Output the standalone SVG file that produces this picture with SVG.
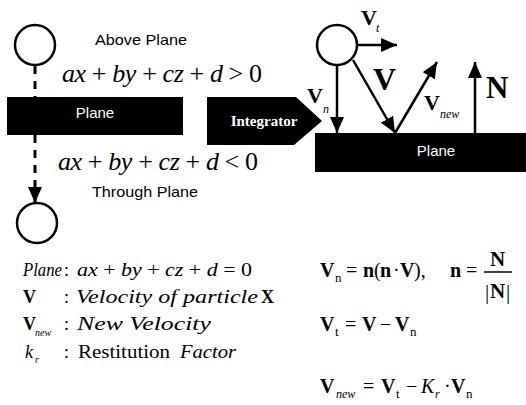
<svg xmlns="http://www.w3.org/2000/svg" width="526" height="405" viewBox="0 0 526 405">
<style>
.bg{fill:#fff}
.blk{fill:#000}
.ring{fill:#fff;stroke:#000;stroke-width:2.5}
.sans{font-family:"Liberation Sans","DejaVu Sans",Arial,sans-serif;fill:#000}
.wsans{font-family:"Liberation Sans","DejaVu Sans",Arial,sans-serif;fill:#fff}
.ser{font-family:"Liberation Serif","DejaVu Serif","Times New Roman",Times,serif;fill:#000}
.wser{font-family:"Liberation Serif","DejaVu Serif","Times New Roman",Times,serif;fill:#fff}
.b{font-weight:bold}
.i{font-style:italic}
.u{font-style:normal}
.vec{stroke:#000;stroke-width:2.5;fill:none}
.dash{stroke:#000;stroke-width:3;fill:none;stroke-dasharray:8 7}
</style>
<defs>
<marker id="ah" viewBox="0 0 16 14" refX="16" refY="7" markerWidth="16" markerHeight="14" markerUnits="userSpaceOnUse" orient="auto"><path d="M0,0 L16,7 L0,14 z" fill="#000"/></marker>
</defs>
<rect class="bg" x="0" y="0" width="526" height="405"/>

<g id="connectors">
<line class="dash" x1="35" y1="66" x2="35" y2="97"/>
<line class="dash" x1="35" y1="135" x2="35" y2="203" marker-end="url(#ah)"/>
<line class="vec" x1="357" y1="45" x2="397" y2="45" marker-end="url(#ah)"/>
<line class="vec" x1="337" y1="65" x2="337" y2="133" marker-end="url(#ah)"/>
<line class="vec" x1="353" y1="60" x2="395" y2="133" marker-end="url(#ah)"/>
<line class="vec" x1="395" y1="133" x2="437" y2="62" marker-end="url(#ah)"/>
<line class="vec" x1="475" y1="133" x2="475" y2="62" marker-end="url(#ah)"/>
</g>

<g id="above-particle">
<circle class="ring" cx="35" cy="45" r="20"/>
<text class="sans" x="95" y="45" font-size="15" textLength="92" lengthAdjust="spacingAndGlyphs">Above Plane</text>
<text class="ser i" x="62" y="82" font-size="26" textLength="200">ax <tspan class="u">+</tspan> by <tspan class="u">+</tspan> cz <tspan class="u">+</tspan> d <tspan class="u">&gt;</tspan> <tspan class="u">0</tspan></text>
</g>

<g id="left-plane">
<rect class="blk" x="7" y="97" width="176" height="38"/>
<text class="wsans" x="95" y="118" font-size="15" text-anchor="middle">Plane</text>
</g>

<g id="through-particle">
<text class="ser i" x="58" y="170" font-size="26" textLength="200">ax <tspan class="u">+</tspan> by <tspan class="u">+</tspan> cz <tspan class="u">+</tspan> d <tspan class="u">&lt;</tspan> <tspan class="u">0</tspan></text>
<text class="sans" x="92" y="197" font-size="15" textLength="106" lengthAdjust="spacingAndGlyphs">Through Plane</text>
<circle class="ring" cx="37" cy="223" r="20"/>
</g>

<g id="integrator">
<path class="blk" d="M207,97 L296,97 L322,121 L294,145 L207,145 Z"/>
<text class="wser b" x="264" y="126" font-size="15" text-anchor="middle">Integrator</text>
</g>

<g id="right-plane">
<rect class="blk" x="315" y="133" width="211" height="39"/>
<text class="wsans" x="436" y="156" font-size="15" text-anchor="middle">Plane</text>
</g>

<g id="particle">
<circle class="ring" cx="337" cy="45" r="20"/>
</g>

<g id="vector-labels">
<text class="ser b" x="361" y="25" font-size="22">V</text>
<text class="ser i" x="376" y="32" font-size="12">t</text>
<text class="ser b" x="307" y="103" font-size="22">V</text>
<text class="ser i" x="323" y="113" font-size="12">n</text>
<text class="ser b" x="373" y="90" font-size="32">V</text>
<text class="ser b" x="424" y="110" font-size="22">V</text>
<text class="ser i" x="440" y="118" font-size="12">new</text>
<text class="ser b" x="486" y="98" font-size="31">N</text>
</g>

<g id="legend">
<text class="ser i" x="23" y="276" font-size="18" textLength="39" lengthAdjust="spacingAndGlyphs">Plane</text>
<text class="ser" x="64" y="276" font-size="18">:</text>
<text class="ser i" x="77" y="276" font-size="18" textLength="175" lengthAdjust="spacingAndGlyphs">ax <tspan class="u">+</tspan> by <tspan class="u">+</tspan> cz <tspan class="u">+</tspan> d <tspan class="u">=</tspan> <tspan class="u">0</tspan></text>
<text class="ser b" x="23" y="303" font-size="18">V</text>
<text class="ser" x="64" y="303" font-size="18">:</text>
<text class="ser i" x="76" y="303" font-size="18" textLength="182" lengthAdjust="spacingAndGlyphs">Velocity of particle</text>
<text class="ser b" x="261" y="303" font-size="18">X</text>
<text class="ser b" x="23" y="330" font-size="18">V</text>
<text class="ser i" x="35" y="336" font-size="10">new</text>
<text class="ser" x="64" y="330" font-size="18">:</text>
<text class="ser i" x="77" y="330" font-size="18" textLength="134" lengthAdjust="spacingAndGlyphs">New Velocity</text>
<text class="ser i" x="25" y="358" font-size="18">k</text>
<text class="ser i" x="35" y="363" font-size="10">r</text>
<text class="ser" x="64" y="358" font-size="18">:</text>
<text class="ser" x="78" y="358" font-size="18" textLength="92" lengthAdjust="spacingAndGlyphs">Restitution</text>
<text class="ser i" x="180" y="358" font-size="18" textLength="56" lengthAdjust="spacingAndGlyphs">Factor</text>
</g>

<g id="equations">
<text class="ser b" x="320" y="277" font-size="20">V</text>
<text class="ser" x="335" y="282" font-size="13">n</text>
<text class="ser" x="346" y="277" font-size="20">=</text>
<text class="ser b" x="363" y="277" font-size="20">n</text>
<text class="ser" x="374" y="277" font-size="20">(</text>
<text class="ser b" x="380" y="277" font-size="20">n</text>
<text class="ser" x="393" y="277" font-size="20">·</text>
<text class="ser b" x="400" y="277" font-size="20">V</text>
<text class="ser" x="414" y="277" font-size="20">),</text>
<text class="ser b" x="450" y="277" font-size="20">n</text>
<text class="ser" x="466" y="277" font-size="20">=</text>
<text class="ser b" x="490" y="266" font-size="21">N</text>
<line x1="484" y1="272" x2="512" y2="272" stroke="#000" stroke-width="1.5"/>
<text class="ser" x="485" y="299" font-size="21">|</text>
<text class="ser b" x="490" y="298" font-size="21">N</text>
<text class="ser" x="506" y="299" font-size="21">|</text>

<text class="ser b" x="320" y="331" font-size="20">V</text>
<text class="ser" x="335" y="336" font-size="13">t</text>
<text class="ser" x="345" y="331" font-size="20">=</text>
<text class="ser b" x="362" y="331" font-size="20">V</text>
<text class="ser" x="380" y="331" font-size="20">−</text>
<text class="ser b" x="395" y="331" font-size="20">V</text>
<text class="ser" x="410" y="336" font-size="13">n</text>

<text class="ser b" x="320" y="393" font-size="20">V</text>
<text class="ser i" x="336" y="398" font-size="12">new</text>
<text class="ser" x="363" y="393" font-size="20">=</text>
<text class="ser b" x="381" y="393" font-size="20">V</text>
<text class="ser" x="396" y="398" font-size="13">t</text>
<text class="ser" x="406" y="393" font-size="20">−</text>
<text class="ser i" x="421" y="393" font-size="20">K</text>
<text class="ser i" x="435" y="398" font-size="12">r</text>
<text class="ser" x="444" y="393" font-size="20">·</text>
<text class="ser b" x="451" y="393" font-size="20">V</text>
<text class="ser" x="466" y="398" font-size="13">n</text>
</g>
</svg>
